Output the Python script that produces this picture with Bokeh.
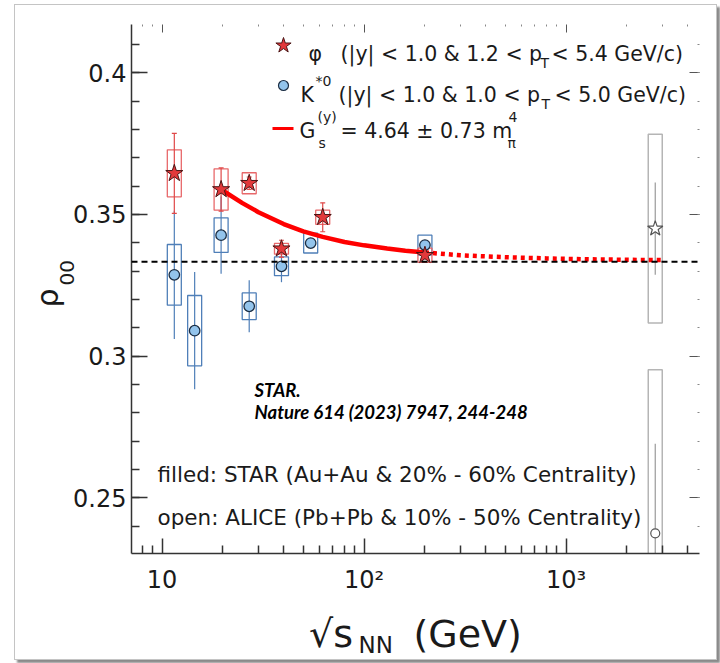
import math
from bokeh.plotting import figure
from bokeh.models import LogAxis, LinearAxis, Label, Span, FixedTicker, Title
from bokeh.embed import file_html
from bokeh.resources import INLINE

# ---------------- data ----------------
# STAR phi (filled red stars)
phi_energy = [11.5, 19.6, 27, 39, 62.4, 200]
phi_rho = [0.3645, 0.3588, 0.3610, 0.3379, 0.3490, 0.3356]
phi_stat = [0.0141, 0.0076, 0.0022, 0.0030, 0.0051, 0.0012]
phi_sys = [0.0083, 0.0073, 0.0037, 0.0019, 0.0025, 0.0025]

# STAR K*0 (filled blue circles)
kst_energy = [11.5, 14.5, 19.6, 27, 39, 54.4, 200]
kst_rho = [0.3287, 0.3090, 0.3427, 0.3176, 0.3317, 0.3399, 0.3392]
kst_stat = [0.0226, 0.0207, 0.0136, 0.0092, 0.0056, 0.0015, 0.0015]
kst_sys = [0.0107, 0.0124, 0.0061, 0.0047, 0.0033, 0.0035, 0.0035]

# ALICE (open markers)
alice_phi_energy = [2760]
alice_phi_rho = [0.3450]
alice_phi_stat = [0.0163]
alice_phi_sys = [0.0333]

alice_kst_energy = [2760]
alice_kst_rho = [0.2375]
alice_kst_stat = [0.0316]
alice_kst_sys = [0.0577]

# G_s fit curve (solid) and its extrapolation (dotted)
fit_energy = [19.6, 25, 30, 40, 50, 62.4, 80, 100, 130, 160, 200]
fit_rho = [0.3588, 0.3540, 0.3508, 0.3466, 0.3440, 0.3421, 0.3403, 0.3391, 0.3380, 0.3372, 0.3366]
ext_energy = [200, 300, 500, 800, 1200, 2000, 3000]
ext_rho = [0.3366, 0.3356, 0.3349, 0.3345, 0.3342, 0.3340, 0.3339]

reference_rho = 1.0 / 3.0

x_ticks = [10, 100, 1000]
x_tick_labels = ["10", "10²", "10³"]
y_ticks = [0.25, 0.3, 0.35, 0.4]
y_tick_labels = ["0.25", "0.3", "0.35", "0.4"]

# ---------------- layout ----------------
XMIN, XMAX = 7.06, 4570
YMIN, YMAX = 0.2304, 0.4170
OX, OY = 15, 5                     # page offset of the canvas (CSS margin)
W, H = 701, 654
ML, MR, MT, MB = 116, 17, 19, 106
FW, FH = W - ML - MR, H - MT - MB
LX0, LX1 = math.log10(XMIN), math.log10(XMAX)

FONT = "DejaVu Sans"
TXT = "#1a1a1a"

p = figure(width=W, height=H, x_axis_type="log", x_range=(XMIN, XMAX), y_range=(YMIN, YMAX),
           output_backend="svg", toolbar_location=None,
           min_border_left=ML, min_border_right=MR, min_border_top=MT, min_border_bottom=MB)
p.xgrid.visible = False
p.ygrid.visible = False
p.outline_line_color = None
p.background_fill_color = "white"
p.border_fill_color = "white"
p.styles = {"margin-left": f"{OX}px", "margin-top": f"{OY}px",
            "box-shadow": "0 0 0 1px #c4c4c4, 3px 3px 2px 1px #8a8a8a"}


def cx(px):
    """page pixel x -> data x"""
    return 10 ** (LX0 + (px - OX - ML) / FW * (LX1 - LX0))


def cy(py):
    """page pixel y -> data y"""
    return YMAX - (py - OY - MT) / FH * (YMAX - YMIN)


def label(text, px, py, size, font=FONT, style="normal", color=TXT):
    p.add_layout(Label(x=cx(px), y=cy(py), text=text, text_font=font,
                       text_font_size=f"{size}px", text_font_style=style,
                       text_color=color, text_align="left", text_baseline="alphabetic"))


x_minor = [8, 9] + [m * 10 for m in range(2, 10)] + [m * 100 for m in range(2, 10)] + [2000, 3000, 4000]
y_minor = [round(0.23 + 0.01 * i, 2) for i in range(19)]

# left axis
yax = p.yaxis[0]
yax.ticker = FixedTicker(ticks=y_ticks, minor_ticks=y_minor)
yax.major_label_overrides = dict(zip(y_ticks, y_tick_labels))
yax.major_label_text_font = FONT
yax.major_label_text_font_size = "24px"
yax.major_label_text_color = TXT
yax.major_label_standoff = 5
yax.major_tick_in, yax.major_tick_out = 16, 0
yax.minor_tick_in, yax.minor_tick_out = 8, 0
yax.axis_line_color = yax.major_tick_line_color = yax.minor_tick_line_color = "#333333"
yax.axis_line_width = yax.major_tick_line_width = yax.minor_tick_line_width = 1.5

# bottom axis (its label carries the sqrt(s) (GeV) title)
xax = p.xaxis[0]
xax.ticker = FixedTicker(ticks=x_ticks, minor_ticks=x_minor)
xax.major_label_overrides = dict(zip(x_ticks, x_tick_labels))
xax.major_label_text_font = FONT
xax.major_label_text_font_size = "24px"
xax.major_label_text_color = TXT
xax.major_label_standoff = 12
xax.major_tick_in, xax.major_tick_out = 15, 0
xax.minor_tick_in, xax.minor_tick_out = 8, 0
xax.axis_line_color = xax.major_tick_line_color = xax.minor_tick_line_color = "#333333"
xax.axis_line_width = xax.major_tick_line_width = xax.minor_tick_line_width = 1.5
xax.axis_label = "√s\u00a0\u00a0\u00a0\u00a0\u00a0(GeV)"
xax.axis_label_text_font = FONT
xax.axis_label_text_font_size = "38px"
xax.axis_label_text_font_style = "normal"
xax.axis_label_text_color = TXT
xax.axis_label_standoff = 15

# subscript NN of sqrt(s_NN)
p.add_layout(Title(text="NN", text_font=FONT, text_font_size="23px", text_font_style="normal",
                   text_color=TXT, align="left", offset=227, vertical_align="top", standoff=-54),
             "below")

# y-axis title rho_00 (rotated)
p.add_layout(Title(text="00", text_font=FONT, text_font_size="20px", text_font_style="normal",
                   text_color=TXT, align="left", offset=268, vertical_align="bottom", standoff=-7),
             "left")
p.add_layout(Title(text="ρ", text_font=FONT, text_font_size="30px", text_font_style="normal",
                   text_color=TXT, align="left", offset=246, vertical_align="bottom", standoff=-6),
             "left")

# top and right axes: ticks only
top = LogAxis(ticker=FixedTicker(ticks=x_ticks, minor_ticks=x_minor),
              major_label_overrides={t: "" for t in x_ticks}, major_label_text_font_size="1px",
              major_label_standoff=0, axis_line_color=None,
              major_tick_in=8, major_tick_out=0, minor_tick_in=2, minor_tick_out=0,
              major_tick_line_color="#555555", minor_tick_line_color="#888888")
p.add_layout(top, "above")
right = LinearAxis(ticker=FixedTicker(ticks=y_ticks, minor_ticks=y_minor),
                   major_label_overrides={t: "" for t in y_ticks}, major_label_text_font_size="1px",
                   major_label_standoff=0, axis_line_color=None,
                   major_tick_in=10, major_tick_out=0, minor_tick_in=2, minor_tick_out=0,
                   major_tick_line_color="#555555", minor_tick_line_color="#888888")
p.add_layout(right, "right")

# reference line at 1/3
p.add_layout(Span(location=reference_rho, dimension="width", line_color="black",
                  line_dash="6 4", line_width=2))


def minus(v, e):
    return [a - b for a, b in zip(v, e)]


def plus(v, e):
    return [a + b for a, b in zip(v, e)]


def twice(e):
    return [2 * a for a in e]


GRAY_BOX = "#b5b5b5"
GRAY_BAR = "#9a9a9a"
BLUE = "#4f7fb8"
RED_BOX = "#e8686a"
RED_BAR = "#e04848"

# ALICE
for en, rho, st, sy in [(alice_phi_energy, alice_phi_rho, alice_phi_stat, alice_phi_sys),
                        (alice_kst_energy, alice_kst_rho, alice_kst_stat, alice_kst_sys)]:
    p.rect(x=en, y=rho, width=14, width_units="screen", height=twice(sy),
           fill_color=None, line_color=GRAY_BOX, line_width=1.5)
    p.segment(x0=en, y0=minus(rho, st), x1=en, y1=plus(rho, st), line_color=GRAY_BAR, line_width=1.2)

# STAR K*0 boxes and bars
p.rect(x=kst_energy, y=kst_rho, width=14, width_units="screen", height=twice(kst_sys),
       fill_color=None, line_color=BLUE, line_width=1.3)
p.segment(x0=kst_energy, y0=minus(kst_rho, kst_stat), x1=kst_energy, y1=plus(kst_rho, kst_stat),
          line_color=BLUE, line_width=1.2)

# STAR phi boxes and bars
p.rect(x=phi_energy, y=phi_rho, width=14, width_units="screen", height=twice(phi_sys),
       fill_color=None, line_color=RED_BOX, line_width=1.3)
p.segment(x0=phi_energy, y0=minus(phi_rho, phi_stat), x1=phi_energy, y1=plus(phi_rho, phi_stat),
          line_color=RED_BAR, line_width=1.2)
p.scatter(x=phi_energy + phi_energy, y=minus(phi_rho, phi_stat) + plus(phi_rho, phi_stat),
          marker="dash", size=5, line_color=RED_BAR, line_width=1.2)

# fit curve
p.line(x=fit_energy, y=fit_rho, line_color="#ff0000", line_width=4.5)
p.line(x=ext_energy, y=ext_rho, line_color="#ff0000", line_width=4.5, line_dash="4 4")

# markers
p.scatter(x=alice_phi_energy, y=alice_phi_rho, marker="star", size=16,
          fill_color="white", line_color="#555555", line_width=1.2)
p.scatter(x=alice_kst_energy, y=alice_kst_rho, marker="circle", size=9,
          fill_color="white", line_color="#555555", line_width=1.2)
p.scatter(x=kst_energy, y=kst_rho, marker="circle", size=10.5,
          fill_color="#93c4ec", line_color="#1c2e44", line_width=1.3)
p.scatter(x=phi_energy, y=phi_rho, marker="star", size=18,
          fill_color="#e2393b", line_color="#4a1414", line_width=1.0)

# ---------------- legend (manual) ----------------
p.scatter(x=[cx(283)], y=[cy(45)], marker="star", size=16, fill_color="#e2393b",
          line_color="#4a1414", line_width=1.0)
p.scatter(x=[cx(283)], y=[cy(85)], marker="circle", size=10, fill_color="#93c4ec",
          line_color="#1c2e44", line_width=1.2)
p.line(x=[cx(272), cx(293)], y=[cy(128), cy(128)], line_color="#ff0000", line_width=3)

LS = 20.5
SS = 14
label("φ", 308, 53, LS)
label("(|y| < 1.0 & 1.2 < p", 340, 53, LS)
label("T", 540, 62, SS)
label("< 5.4 GeV/c)", 551, 53, LS)

label("K", 300, 94, LS)
label("*0", 315, 80, SS)
label("(|y| < 1.0 & 1.0 < p", 338, 94, LS)
label("T", 541, 103, SS)
label("< 5.0 GeV/c)", 554, 94, LS)

label("G", 299, 130, LS)
label("(y)", 317, 116, SS)
label("s", 318, 142, SS)
label("= 4.64 ± 0.73 m", 340, 130, LS)
label("4", 508, 116, SS)
label("π", 507, 142, SS)

label("filled: STAR (Au+Au & 20% - 60% Centrality)", 157, 474, 21.5)
label("open: ALICE (Pb+Pb & 10% - 50% Centrality)", 157, 517, 21.5)

label("STAR.", 254, 389, 18.5, font="Lato", style="bold italic", color="black")
label("Nature 614 (2023) 7947, 244-248", 254, 411, 18.5, font="Lato", style="bold italic", color="black")

open("out.html", "w").write(file_html(p, INLINE))
